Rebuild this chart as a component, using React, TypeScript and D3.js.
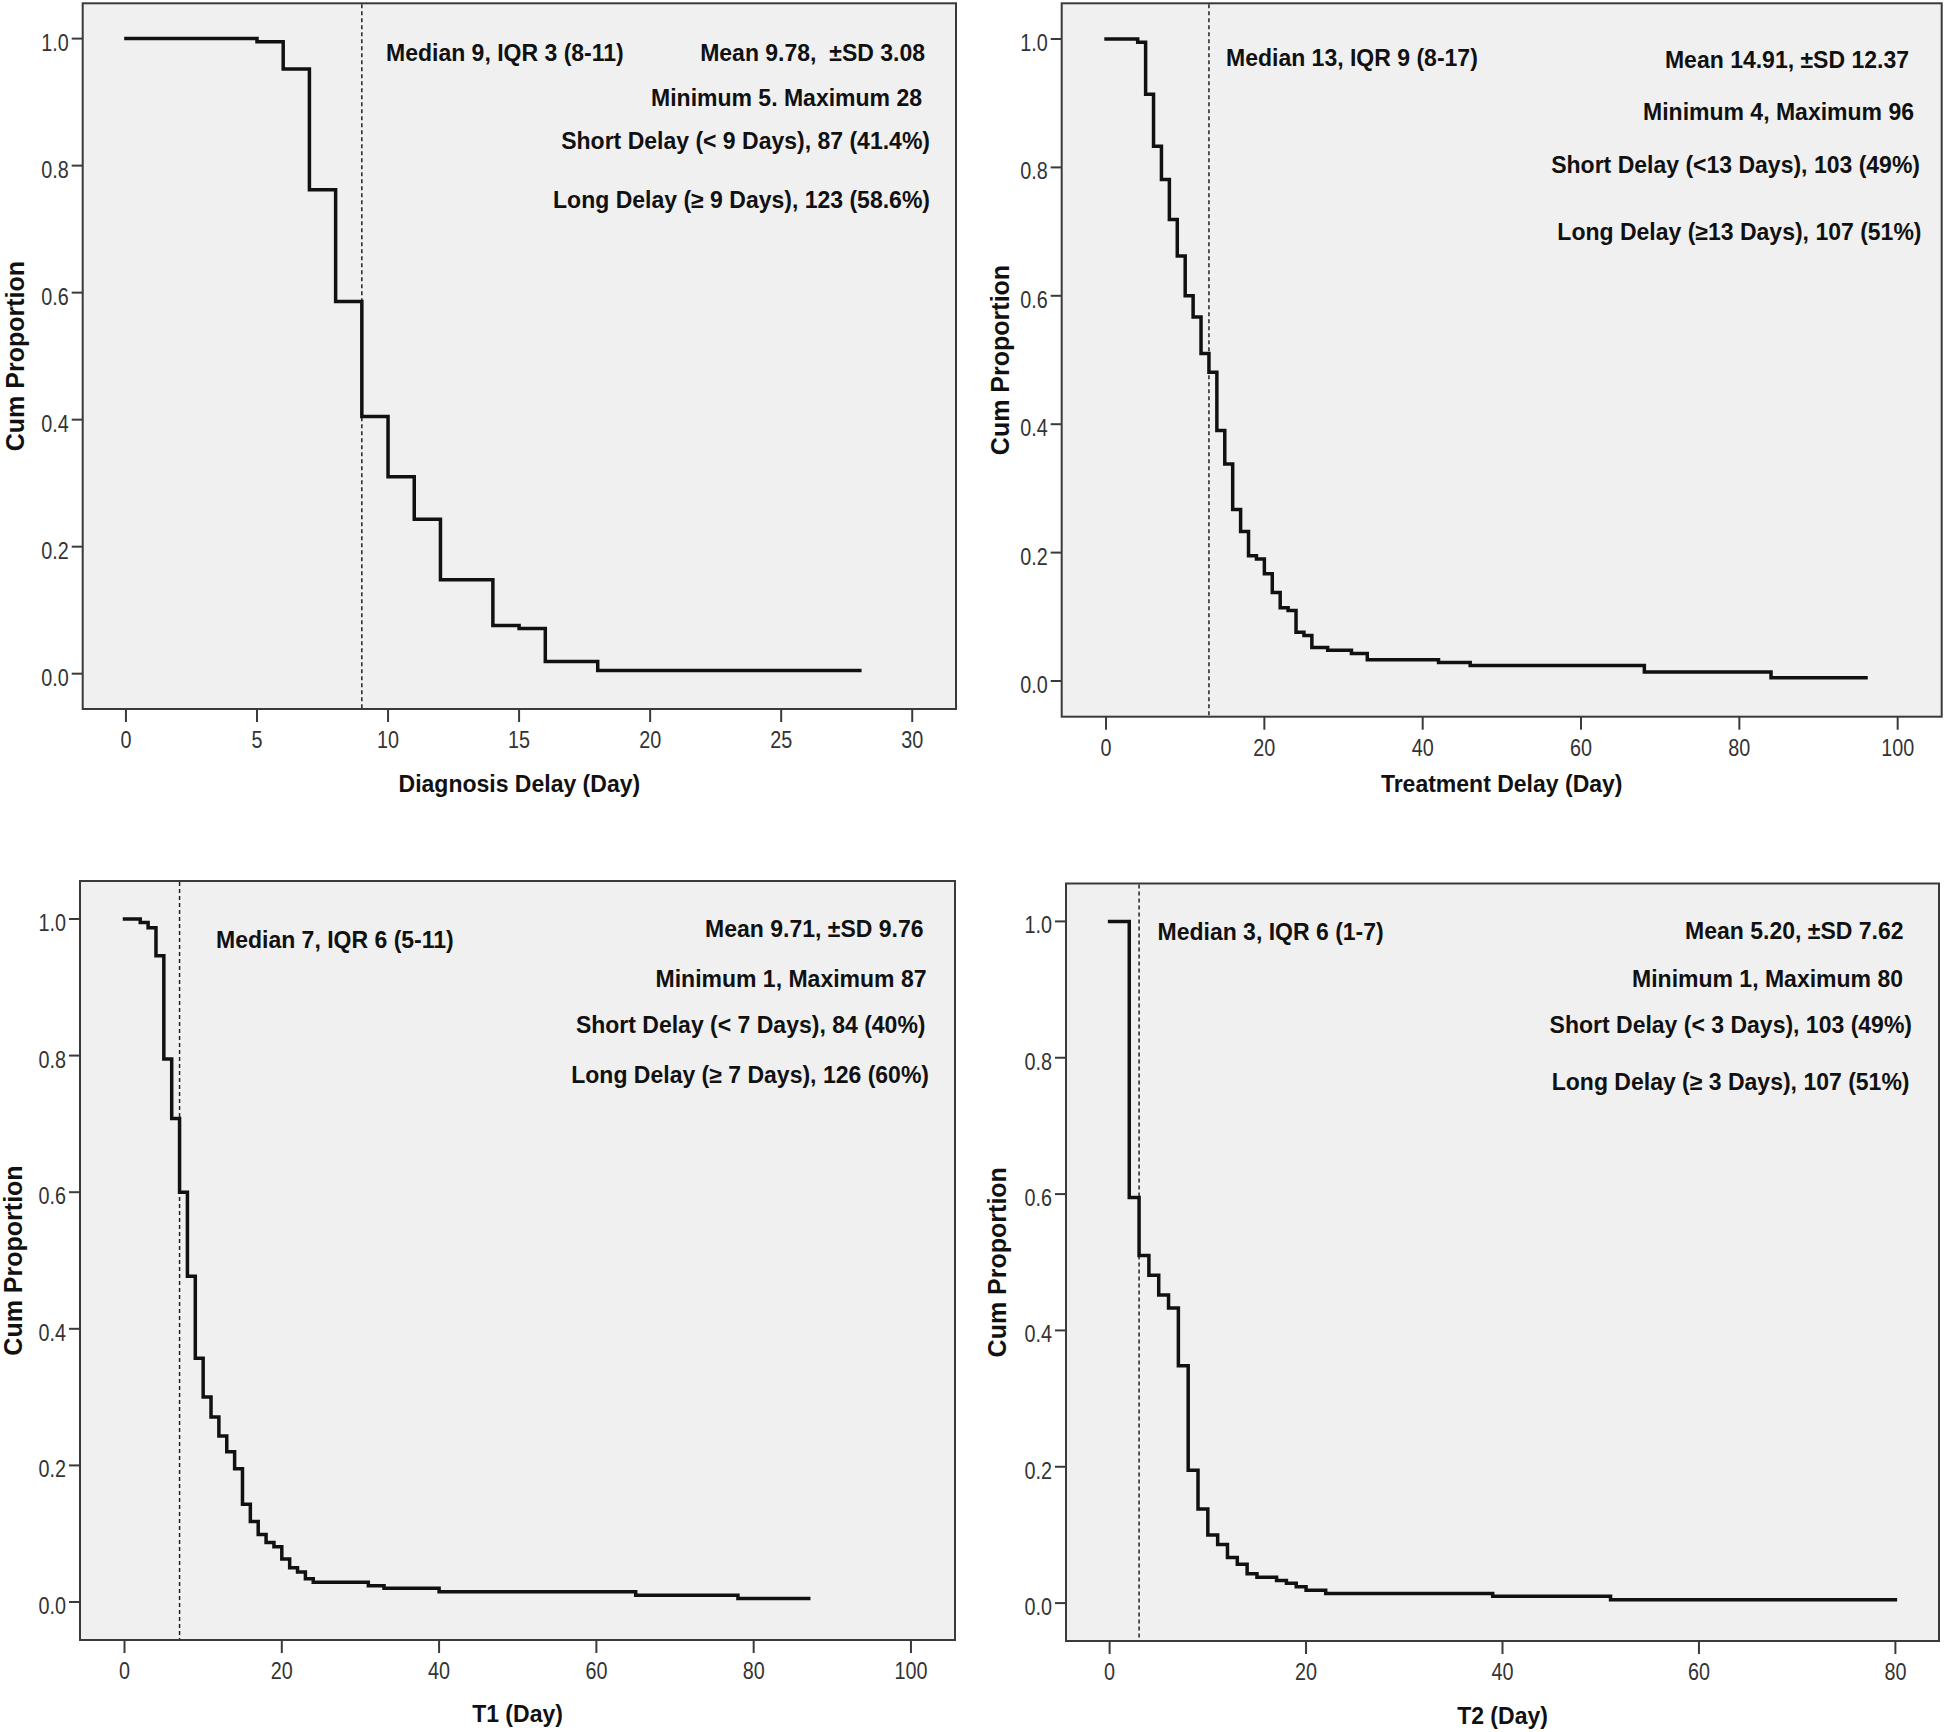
import React from 'react';
import * as d3 from 'd3';

// ---------- data ----------
const yTickValues = [0, 0.2, 0.4, 0.6, 0.8, 1.0];

const diagnosisDays = [0, 5, 6, 7, 8, 9, 10, 11, 12, 14, 15, 16, 18, 28];
const diagnosisProp = [1.0, 0.995, 0.952, 0.762, 0.586, 0.405, 0.31, 0.243, 0.148, 0.076, 0.071, 0.019, 0.005, 0.005];
const diagnosisTicks = [0, 5, 10, 15, 20, 25, 30];
const diagnosisNotes = [
  'Median 9, IQR 3 (8-11)',
  'Mean 9.78,  \u00B1SD 3.08',
  'Minimum 5. Maximum 28',
  'Short Delay (< 9 Days), 87 (41.4%)',
  'Long Delay (\u2265 9 Days), 123 (58.6%)',
];

const treatmentDays = [0, 4, 5, 6, 7, 8, 9, 10, 11, 12, 13, 14, 15, 16, 17, 18, 19, 20, 21, 22, 23, 24, 25, 26, 28, 31, 33, 42, 46, 68, 84, 96];
const treatmentProp = [1.0, 0.995, 0.914, 0.833, 0.781, 0.719, 0.662, 0.6, 0.567, 0.51, 0.481, 0.39, 0.338, 0.267, 0.233, 0.195, 0.19, 0.167, 0.138, 0.114, 0.11, 0.076, 0.071, 0.052, 0.048, 0.043, 0.033, 0.029, 0.024, 0.014, 0.005, 0.005];
const treatmentTicks = [0, 20, 40, 60, 80, 100];
const treatmentNotes = [
  'Median 13, IQR 9 (8-17)',
  'Mean 14.91, \u00B1SD 12.37',
  'Minimum 4, Maximum 96',
  'Short Delay (<13 Days), 103 (49%)',
  'Long Delay (\u226513 Days), 107 (51%)',
];

const t1Days = [0, 2, 3, 4, 5, 6, 7, 8, 9, 10, 11, 12, 13, 14, 15, 16, 17, 18, 19, 20, 21, 22, 23, 24, 31, 33, 40, 65, 78, 87];
const t1Prop = [1.0, 0.995, 0.987, 0.946, 0.795, 0.708, 0.6, 0.477, 0.357, 0.3, 0.271, 0.243, 0.22, 0.195, 0.143, 0.118, 0.099, 0.087, 0.081, 0.063, 0.05, 0.044, 0.034, 0.029, 0.024, 0.02, 0.015, 0.01, 0.005, 0.005];
const t1Ticks = [0, 20, 40, 60, 80, 100];
const t1Notes = [
  'Median 7, IQR 6 (5-11)',
  'Mean 9.71, \u00B1SD 9.76',
  'Minimum 1, Maximum 87',
  'Short Delay (< 7 Days), 84 (40%)',
  'Long Delay (\u2265 7 Days), 126 (60%)',
];

const t2Days = [0, 2, 3, 4, 5, 6, 7, 8, 9, 10, 11, 12, 13, 14, 15, 17, 18, 19, 20, 22, 39, 51, 80];
const t2Prop = [1.0, 0.595, 0.51, 0.481, 0.452, 0.433, 0.348, 0.195, 0.138, 0.1, 0.086, 0.067, 0.057, 0.043, 0.038, 0.033, 0.029, 0.024, 0.019, 0.014, 0.01, 0.005, 0.005];
const t2Ticks = [0, 20, 40, 60, 80];
const t2Notes = [
  'Median 3, IQR 6 (1-7)',
  'Mean 5.20, \u00B1SD 7.62',
  'Minimum 1, Maximum 80',
  'Short Delay (< 3 Days), 103 (49%)',
  'Long Delay (\u2265 3 Days), 107 (51%)',
];

// ---------- layout ----------
type Frame = { left: number; top: number; right: number; bottom: number };
type PanelCfg = {
  frame: Frame;
  xDomain: [number, number];
  xTicks: number[];
  days: number[];
  prop: number[];
  median: number;
  xTitle: string;
  xTitleY: number;
  yTitleX: number;
  notes: string[];
  notePos: { x: number; y: number }[];
};

const panels: PanelCfg[] = [
  {
    frame: { left: 82.7, top: 3.3, right: 956, bottom: 709 },
    xDomain: [-1.65, 31.67],
    xTicks: diagnosisTicks,
    days: diagnosisDays,
    prop: diagnosisProp,
    median: 9,
    xTitle: 'Diagnosis Delay (Day)',
    xTitleY: 784,
    yTitleX: 15.5,
    notes: diagnosisNotes,
    notePos: [
      { x: 386, y: 52.5 },
      { x: 925, y: 53 },
      { x: 922, y: 98 },
      { x: 930, y: 141 },
      { x: 930, y: 199.5 },
    ],
  },
  {
    frame: { left: 1061.7, top: 3.3, right: 1941.7, bottom: 716.7 },
    xDomain: [-5.6, 105.56],
    xTicks: treatmentTicks,
    days: treatmentDays,
    prop: treatmentProp,
    median: 13,
    xTitle: 'Treatment Delay (Day)',
    xTitleY: 784,
    yTitleX: 1001,
    notes: treatmentNotes,
    notePos: [
      { x: 1226, y: 57.5 },
      { x: 1909, y: 60 },
      { x: 1914, y: 112 },
      { x: 1920, y: 165 },
      { x: 1921.5, y: 231.5 },
    ],
  },
  {
    frame: { left: 80, top: 881, right: 955, bottom: 1640 },
    xDomain: [-5.66, 105.6],
    xTicks: t1Ticks,
    days: t1Days,
    prop: t1Prop,
    median: 7,
    xTitle: 'T1 (Day)',
    xTitleY: 1714,
    yTitleX: 13.5,
    notes: t1Notes,
    notePos: [
      { x: 216, y: 940 },
      { x: 923.5, y: 929 },
      { x: 926.5, y: 978.5 },
      { x: 925.5, y: 1025 },
      { x: 929, y: 1075 },
    ],
  },
  {
    frame: { left: 1066, top: 883.5, right: 1939, bottom: 1641 },
    xDomain: [-4.44, 84.44],
    xTicks: t2Ticks,
    days: t2Days,
    prop: t2Prop,
    median: 3,
    xTitle: 'T2 (Day)',
    xTitleY: 1716,
    yTitleX: 998,
    notes: t2Notes,
    notePos: [
      { x: 1157.5, y: 931.5 },
      { x: 1903.5, y: 931 },
      { x: 1903, y: 978.5 },
      { x: 1912, y: 1025 },
      { x: 1909.5, y: 1082 },
    ],
  },
];

const yDomain: [number, number] = [-0.0556, 1.0556];
const SANS = '"Liberation Sans", Arial, Helvetica, sans-serif';

function Panel({ cfg }: { cfg: PanelCfg }) {
  const { frame } = cfg;
  const x = d3.scaleLinear().domain(cfg.xDomain).range([frame.left, frame.right]);
  const y = d3.scaleLinear().domain(yDomain).range([frame.bottom, frame.top]);
  const pts: [number, number][] = cfg.days.map((d, i) => [d, cfg.prop[i]]);
  const line = d3
    .line<[number, number]>()
    .x((d) => x(d[0]))
    .y((d) => y(d[1]))
    .curve(d3.curveStepAfter);
  const path = line(pts) || '';
  const cy = (frame.top + frame.bottom) / 2;
  const cx = (frame.left + frame.right) / 2;
  const fmt = d3.format('.1f');
  return (
    <g>
      <rect
        x={frame.left}
        y={frame.top}
        width={frame.right - frame.left}
        height={frame.bottom - frame.top}
        fill="#f0f0f0"
        stroke="#3a3a3a"
        strokeWidth={2}
      />
      {yTickValues.map((t) => (
        <g key={'y' + t}>
          <line x1={frame.left - 11} x2={frame.left} y1={y(t)} y2={y(t)} stroke="#3a3a3a" strokeWidth={2} />
          <text
            transform={`translate(${frame.left - 14},${y(t) + 12}) scale(0.86,1)`}
            textAnchor="end"
            fontFamily={SANS}
            fontSize={23}
            fill="#333"
          >
            {fmt(t)}
          </text>
        </g>
      ))}
      {cfg.xTicks.map((t) => (
        <g key={'x' + t}>
          <line x1={x(t)} x2={x(t)} y1={frame.bottom} y2={frame.bottom + 13} stroke="#3a3a3a" strokeWidth={2} />
          <text
            transform={`translate(${x(t)},${frame.bottom + 39}) scale(0.86,1)`}
            textAnchor="middle"
            fontFamily={SANS}
            fontSize={23}
            fill="#333"
          >
            {t}
          </text>
        </g>
      ))}
      <line
        x1={x(cfg.median)}
        x2={x(cfg.median)}
        y1={frame.top + 1}
        y2={frame.bottom - 1}
        stroke="#222"
        strokeWidth={1.5}
        strokeDasharray="4,3"
      />
      <path d={path} fill="none" stroke="#111" strokeWidth={3.5} strokeLinecap="square" strokeLinejoin="miter" />
      {cfg.notes.map((n, i) => (
        <text
          key={'n' + i}
          x={cfg.notePos[i].x}
          y={cfg.notePos[i].y + 8}
          textAnchor={i === 0 ? 'start' : 'end'}
          fontFamily={SANS}
          fontWeight="bold"
          fontSize={23}
          fill="#111"
          style={{ whiteSpace: 'pre' }}
        >
          {n}
        </text>
      ))}
      <text
        x={cx}
        y={cfg.xTitleY + 8}
        textAnchor="middle"
        fontFamily={SANS}
        fontWeight="bold"
        fontSize={23}
        fill="#111"
      >
        {cfg.xTitle}
      </text>
      <text
        transform={`translate(${cfg.yTitleX + 8},${cy}) rotate(-90)`}
        textAnchor="middle"
        fontFamily={SANS}
        fontWeight="bold"
        fontSize={25}
        fill="#111"
      >
        Cum Proportion
      </text>
    </g>
  );
}

export default function App() {
  return (
    <svg
      width={1946}
      height={1732}
      viewBox="0 0 1946 1732"
      style={{ position: 'absolute', left: 0, top: 0, display: 'block', background: '#fff' }}
    >
      <rect x={0} y={0} width={1946} height={1732} fill="#fff" />
      {panels.map((p, i) => (
        <Panel key={i} cfg={p} />
      ))}
    </svg>
  );
}
